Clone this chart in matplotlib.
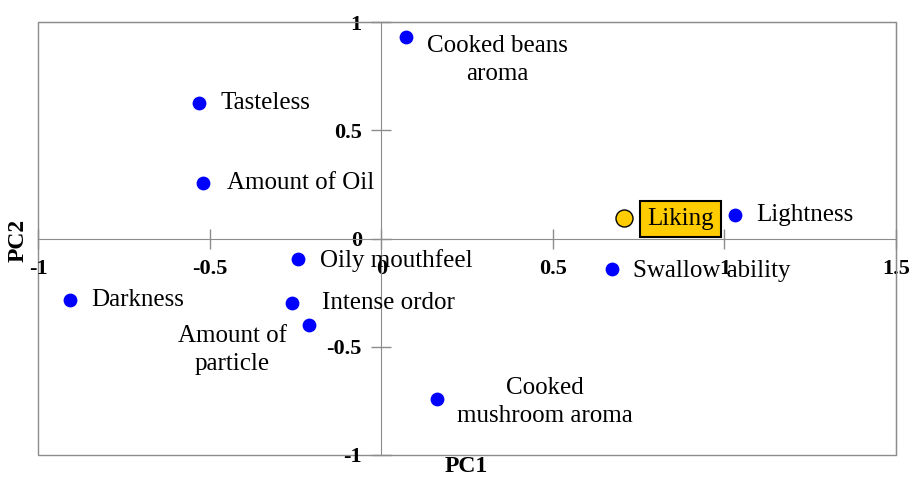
import matplotlib
matplotlib.use('Agg')
import matplotlib.pyplot as plt
from matplotlib.patches import Rectangle

plt.rcParams['font.family'] = ['Liberation Serif', 'DejaVu Serif']

# attribute loadings on PC1 / PC2
names = ['Cooked beans\naroma', 'Tasteless', 'Amount of Oil', 'Lightness',
         'Oily mouthfeel', 'Darkness', 'Intense ordor', 'Amount of\nparticle',
         'Swallow ability', 'Cooked\nmushroom aroma']
pc1 = [0.073, -0.53, -0.519, 1.03, -0.242, -0.906, -0.259, -0.21, 0.673, 0.163]
pc2 = [0.93, 0.626, 0.256, 0.108, -0.095, -0.284, -0.298, -0.40, -0.141, -0.74]

liking_x, liking_y = 0.708, 0.095

# label offsets in pixels and alignment
offsets = [(91, -23, 'center'), (21, 0, 'left'), (24, 0, 'left'), (22, 0, 'left'),
           (22, -1, 'left'), (21, 0, 'left'), (30, 0, 'left'), (-77, -25, 'center'),
           (21, -2, 'left'), (108, -3, 'center')]

fig = plt.figure(figsize=(9.14, 4.80), dpi=100)
ax = fig.add_axes([38 / 914, 25 / 480, 858 / 914, 433 / 480])

frame = '#8c8c8c'
ax.set_xlim(-1, 1.5)
ax.set_ylim(-1, 1)
for s in ['top', 'right']:
    ax.spines[s].set_color(frame)
ax.spines['left'].set_position(('data', 0))
ax.spines['bottom'].set_position(('data', 0))
ax.spines['left'].set_color(frame)
ax.spines['bottom'].set_color(frame)
ax.add_patch(Rectangle((0, 0), 1, 1, transform=ax.transAxes, fill=False,
                       edgecolor=frame, lw=1, clip_on=False, zorder=0))

ax.set_xticks([-1, -0.5, 0, 0.5, 1, 1.5])
ax.set_xticklabels(['-1', '-0.5', '0', '0.5', '1', '1.5'])
ax.set_yticks([-1, -0.5, 0, 0.5, 1])
ax.set_yticklabels(['-1', '-0.5', '0', '0.5', '1'])
ax.tick_params(direction='inout', length=14, color=frame, width=1,
               labelsize=16)
ax.tick_params(axis='x', pad=8)
ax.tick_params(axis='y', pad=7)
for lab in ax.get_xticklabels() + ax.get_yticklabels():
    lab.set_fontweight('bold')

ax.scatter(pc1, pc2, s=80, color='#0000ff', zorder=3, clip_on=False)
ax.scatter([liking_x], [liking_y], s=150, color='#ffcc00', edgecolor='black',
           linewidth=1, zorder=3)

for n, x, y, (dx, dy, ha) in zip(names, pc1, pc2, offsets):
    ax.annotate(n, (x, y), xytext=(dx, dy), textcoords='offset pixels',
                ha=ha, va='center', fontsize=18, multialignment='center',
                linespacing=1.35, zorder=4)

ax.annotate('Liking', (liking_x, liking_y), xytext=(23, -1),
            textcoords='offset pixels', ha='left', va='center', fontsize=18,
            bbox=dict(boxstyle='square,pad=0.28', fc='#ffcc00', ec='black', lw=1.5),
            zorder=4)

fig.text(466 / 914, 1 - 467 / 480, 'PC1', ha='center', va='center',
         fontsize=17, fontweight='bold')
fig.text(18 / 914, 1 - 240 / 480, 'PC2', ha='center', va='center',
         fontsize=17, fontweight='bold', rotation=90)

fig.savefig('out.png', dpi=100)
